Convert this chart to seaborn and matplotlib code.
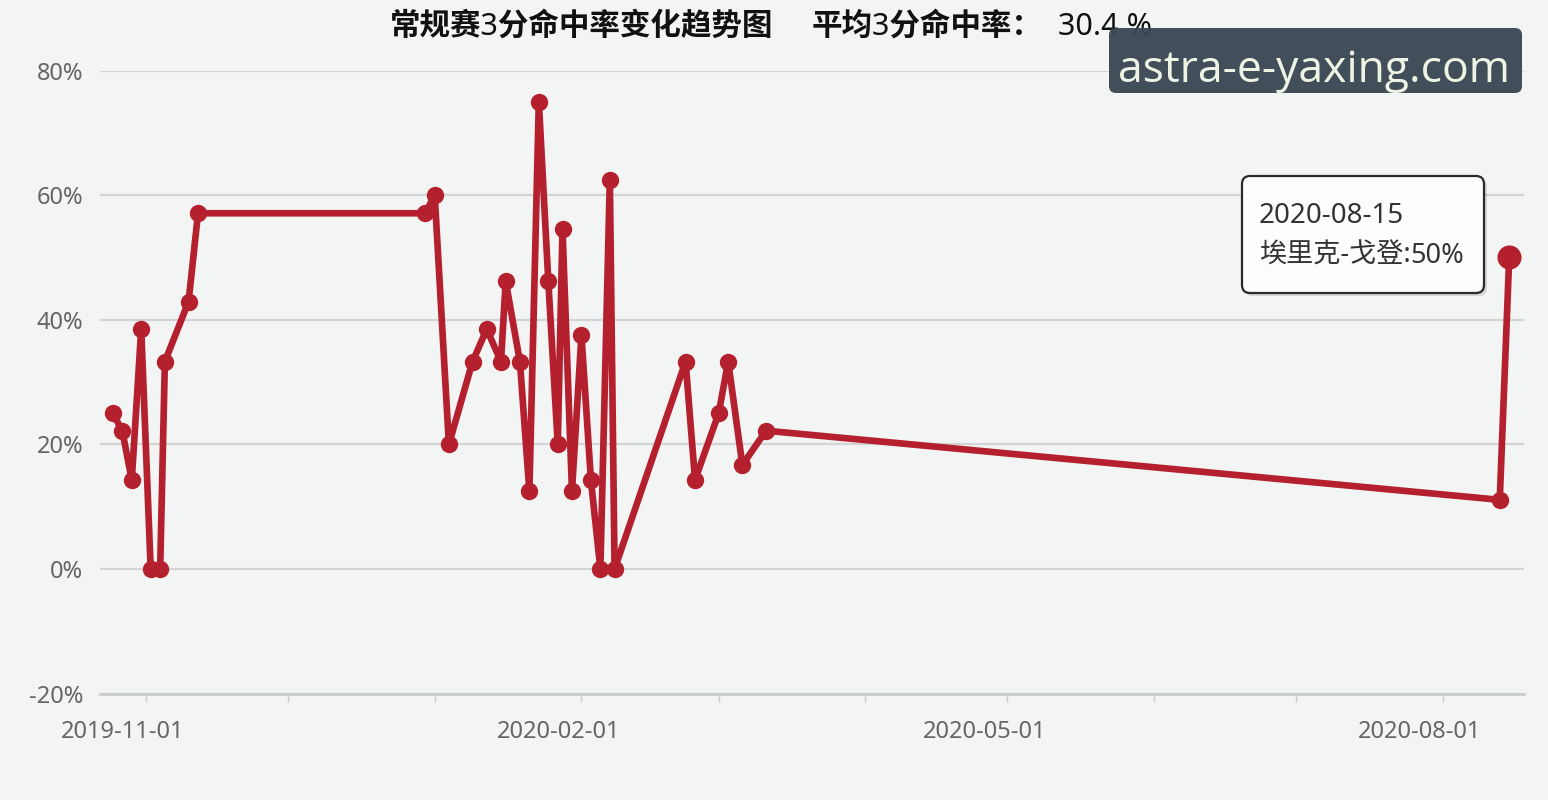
import matplotlib
matplotlib.use("Agg")
import matplotlib.pyplot as plt
import matplotlib.dates as mdates
from matplotlib.ticker import FuncFormatter, FixedLocator
from matplotlib.transforms import ScaledTranslation
from matplotlib.patches import FancyBboxPatch
import seaborn as sns
import pandas as pd

# game dates and 3pt percentage
game_dates = [
    "2019-10-25", "2019-10-27", "2019-10-29", "2019-10-31", "2019-11-02",
    "2019-11-04", "2019-11-05", "2019-11-10", "2019-11-12", "2019-12-30",
    "2020-01-01", "2020-01-04", "2020-01-09", "2020-01-12", "2020-01-15",
    "2020-01-16", "2020-01-19", "2020-01-21", "2020-01-23", "2020-01-25",
    "2020-01-27", "2020-01-28", "2020-01-30", "2020-02-01", "2020-02-03",
    "2020-02-05", "2020-02-07", "2020-02-08", "2020-02-23", "2020-02-25",
    "2020-03-01", "2020-03-03", "2020-03-06", "2020-03-11", "2020-08-13",
    "2020-08-15",
]
three_pct = [
    25.0, 22.2, 14.3, 38.5, 0.0,
    0.0, 33.3, 42.9, 57.1, 57.1,
    60.0, 20.0, 33.3, 38.5, 33.3,
    46.2, 33.3, 12.5, 75.0, 46.2,
    20.0, 54.5, 12.5, 37.5, 14.3,
    0.0, 62.5, 0.0, 33.3, 14.3,
    25.0, 33.3, 16.7, 22.2, 11.1,
    50.0,
]
avg_pct = 30.4
hover_date = "2020-08-15"
hover_player = "埃里克-戈登"
hover_value = 50

y_ticks = [-20, 0, 20, 40, 60, 80]
label_dates = ["2019-11-01", "2020-02-01", "2020-05-01", "2020-08-01"]
month_dates = ["2019-12-01", "2020-01-01", "2020-03-01", "2020-04-01",
               "2020-06-01", "2020-07-01"]
x_range = ["2019-10-22 07:00", "2020-08-18 03:00"]

BG = "#f3f4f4"
RED = "#b5202e"
GRID = "#d2d4d5"
TXT = "#666666"

sns.set_theme(style="whitegrid", rc={
    "axes.facecolor": BG,
    "figure.facecolor": BG,
    "grid.color": GRID,
})
plt.rcParams["font.family"] = ["Noto Sans", "Noto Sans CJK SC", "DejaVu Sans"]

df = pd.DataFrame({"date": pd.to_datetime(game_dates), "pct": three_pct})

W, H = 1548, 800
fig = plt.figure(figsize=(W / 100, H / 100), dpi=100)
ax = fig.add_axes([100 / W, 1 - 693.6 / H, 1424 / W, 623 / H])

sns.lineplot(data=df, x="date", y="pct", ax=ax, color=RED, linewidth=4.8,
             marker="o", markersize=12.5, markeredgewidth=0, zorder=3)

# hovered point is drawn larger
hv = df[df["date"] == pd.Timestamp(hover_date)]
sns.scatterplot(data=hv, x="date", y="pct", ax=ax, color=RED, s=300,
                linewidth=0, zorder=4, clip_on=False)

ax.set_xlim(pd.Timestamp(x_range[0]), pd.Timestamp(x_range[1]))
ax.set_ylim(y_ticks[0], y_ticks[-1])
ax.set_yticks(y_ticks)
ax.yaxis.set_major_formatter(FuncFormatter(lambda v, p: f"{v:.0f}%"))
ax.set_xlabel("")
ax.set_ylabel("")

ax.xaxis.set_major_locator(FixedLocator(mdates.date2num(pd.to_datetime(label_dates))))
ax.xaxis.set_minor_locator(FixedLocator(mdates.date2num(pd.to_datetime(month_dates))))
ax.xaxis.set_major_formatter(mdates.DateFormatter("%Y-%m-%d"))

ax.grid(axis="x", visible=False)
ax.grid(axis="y", color=GRID, linewidth=1.6)
for side in ["top", "right", "left"]:
    ax.spines[side].set_visible(False)
ax.spines["bottom"].set_color("#c9cccd")
ax.spines["bottom"].set_linewidth(2)

ax.tick_params(axis="y", length=0, pad=12, labelsize=17, labelcolor=TXT)
ax.tick_params(axis="x", which="both", direction="out", length=6, width=1,
               color="#c9cccd", bottom=True)
ax.tick_params(axis="x", which="major", pad=13, labelsize=17, labelcolor=TXT)

# x labels sit a little left of their tick marks
shift = ScaledTranslation(-0.23, 0, fig.dpi_scale_trans)
for lab in ax.get_xticklabels():
    lab.set_transform(lab.get_transform() + shift)

# title in pieces (last part regular weight)
ty = 1 - 27 / H
fig.text(390 / W, ty, "常规赛3分命中率变化趋势图", fontsize=22, fontweight="bold",
         color="#111111", va="center", ha="left")
fig.text(812 / W, ty, "平均3分命中率：", fontsize=22, fontweight="bold",
         color="#111111", va="center", ha="left")
fig.text(1058 / W, ty, f"{avg_pct} %", fontsize=22, color="#111111",
         va="center", ha="left")

# tooltip box
shadow = FancyBboxPatch((1245, H - 296), 242, 117, boxstyle="round,pad=0,rounding_size=8",
                        transform=None, facecolor="#000000", alpha=0.12,
                        edgecolor="none", zorder=5)
box = FancyBboxPatch((1242, H - 293), 242, 117, boxstyle="round,pad=0,rounding_size=8",
                     transform=None, facecolor="#fdfdfd", edgecolor="#2b2b2b",
                     linewidth=1.6, zorder=6)
fig.patches.extend([shadow, box])
fig.text(1259 / W, 1 - 223 / H, hover_date, fontsize=20, color="#333333",
         va="baseline", ha="left", zorder=7)
t1 = fig.text(1259 / W, 1 - 263 / H, f"{hover_player}:", fontsize=19.5,
              color="#333333", va="baseline", ha="left", zorder=7)
fig.canvas.draw()
bb = t1.get_window_extent()
fig.text(bb.x1 / W, 1 - 263 / H, f"{hover_value}%", fontsize=19.5,
         fontweight="bold", color="#333333", va="baseline", ha="left", zorder=7)

# watermark
wm = FancyBboxPatch((1109, H - 93), 413, 65, boxstyle="round,pad=0,rounding_size=7",
                    transform=None, facecolor="#3b4754", alpha=0.96,
                    edgecolor="none", zorder=8)
fig.patches.append(wm)
fig.text(1314 / W, 1 - 82 / H, "astra-e-yaxing.com", fontsize=32,
         family=["Open Sans", "DejaVu Sans"], color="#eef4e4",
         va="baseline", ha="center", zorder=9)

fig.savefig("out.png", dpi=100, facecolor=BG)
